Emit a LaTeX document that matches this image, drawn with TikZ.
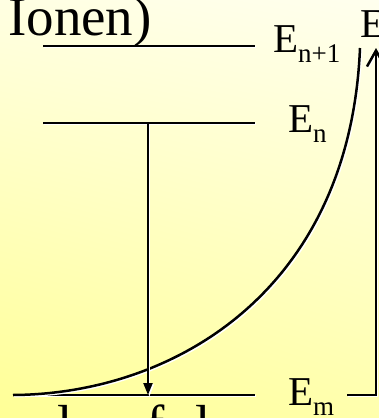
\documentclass[tikz,border=0pt]{standalone}
\usepackage{fontspec}
\setmainfont{Liberation Serif}
\usetikzlibrary{arrows.meta,positioning,shadings}

\definecolor{bgUL}{RGB}{255,255,226}
\definecolor{bgUR}{RGB}{255,255,238}
\definecolor{bgLL}{RGB}{255,255,150}
\definecolor{bgLR}{RGB}{255,255,172}

\newcommand{\lvlname}[1]{{\fontsize{41}{41}\selectfont E\raisebox{-10pt}{\fontsize{27}{27}\selectfont #1}}}

\begin{document}
\begin{tikzpicture}[
            x=1pt, y=-1pt,
            level/.style={line width=2.5pt, preaction={draw=white, line width=2pt, transform canvas={shift={(1.4pt,-1.4pt)}}}},
            lab/.style={anchor=base west, inner sep=0pt},
            big/.style={lab, font=\fontsize{55}{55}\selectfont}
        ]
        \useasboundingbox (0,0) rectangle (379,418);
        \clip (0,0) rectangle (379,418);
        \shade[upper left=bgUL, upper right=bgUR, lower left=bgLL, lower right=bgLR]
            (0,0) rectangle (379,418);

        \node[big] (ionen) at (8,35) {Ionen)};

        \coordinate (np1L) at (43,46);
        \coordinate (np1R) at (255,46);
        \coordinate (nL) at (43,123);
        \coordinate (nR) at (255,123);
        \coordinate (mL) at (13,395);
        \coordinate (mR) at (255,395);
        \coordinate (drop) at (148,123);
        \coordinate (hit) at (148,395);
        \coordinate (edge) at (360,48);
        \coordinate (axB) at (347,395);
        \coordinate (axC) at (376,395);
        \coordinate (axT) at (376,48);

        \draw[level] (np1L) -- (np1R);
        \draw[level] (nL) -- (nR);
        \draw[level] (mL) -- (mR);

        \draw[level] (mL) .. controls (175,394) and (350,290) .. (edge);
        \draw[level, line width=2.2pt, -{Triangle[width=9pt,length=12pt]}] (drop) -- (hit);
        \draw[level, -{Straight Barb[length=16pt,width=18pt]}] (axB) -- (axC) -- (axT);

        \node[lab] (Enp1) at (273,52) {\lvlname{n+1}};
        \node[lab] (En) at (288,132) {\lvlname{n}};
        \node[lab] (Em) at (288,405) {\lvlname{m}};
        \node[lab, font=\fontsize{41}{41}\selectfont] (E) at (360,37) {E};

        \node[big] (cut1) at (57,443) {l};
        \node[big] (cut2) at (146,443) {f};
        \node[big] (cut3) at (195,443) {l};
    \end{tikzpicture}
\end{document}
